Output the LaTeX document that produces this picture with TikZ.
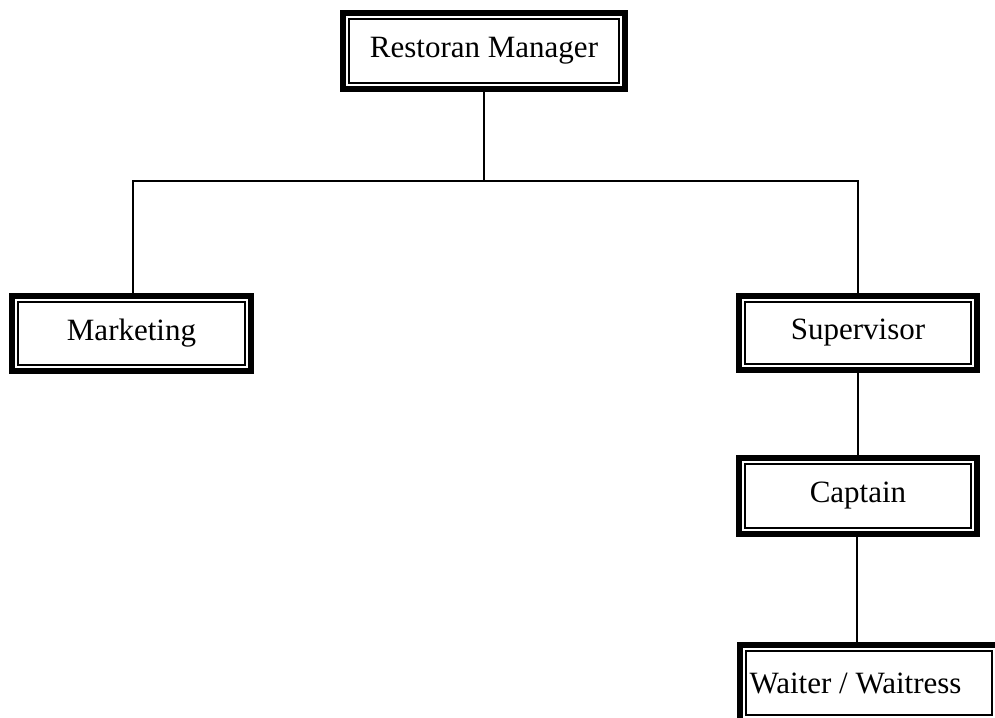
\documentclass[tikz,border=0pt]{standalone}
\usepackage{fontspec}
\setmainfont{Liberation Serif}
\usetikzlibrary{backgrounds}
\tikzset{
  box/.style={draw=black, line width=2pt, fill=white, inner sep=0pt, font=\fontsize{31}{37}\selectfont},
  thickframe/.style={draw=black, line width=6pt, fill=white},
  conn/.style={draw=black, line width=2pt},
  txt/.style={inner sep=0pt, font=\fontsize{31}{37}\selectfont}
}
\newcommand{\myframe}[1]{%
  \path[thickframe] ([shift={(-6,-6)}]#1.north west) rectangle ([shift={(6,6)}]#1.south east);}
\begin{document}
\begin{tikzpicture}[x=1pt, y=-1pt]
\useasboundingbox (0,0) rectangle (995,717);
\clip (0,0) rectangle (995,717);
% frames (outer thick) are drawn before nodes
\path[thickframe] (343,13) rectangle (625,89);
\path[thickframe] (12,296) rectangle (251,371);
\path[thickframe] (739,296) rectangle (977,370);
\path[thickframe] (739,458) rectangle (977,534);
\path[thickframe] (740,645) rectangle (1000,722);
% nodes (inner thin frame)
\node[box, minimum width=270pt, minimum height=64pt] (manager) at (484,51) {Restoran Manager};
\node[box, minimum width=227pt, minimum height=63pt] (marketing) at (131.5,333.5) {Marketing};
\node[box, minimum width=226pt, minimum height=62pt] (supervisor) at (858,333) {Supervisor};
\node[box, minimum width=226pt, minimum height=64pt] (captain) at (858,496) {Captain};
\node[box, minimum width=246pt, minimum height=64pt] (waiter) at (869,683) {};
\node[txt] (waitertext) at (855.5,683) {Waiter / Waitress};
\coordinate (bar) at (484,181);
\begin{scope}[on background layer]
  \draw[conn] (manager.south) -- (bar);
  \draw[conn] (bar) -| ([xshift=1.5pt]marketing.north);
  \draw[conn] (bar) -| (supervisor.north);
  \draw[conn] (supervisor.south) -- (captain.north);
  \draw[conn] ([xshift=-1pt]captain.south) -- ([xshift=-1pt]captain.south |- waiter.north);
\end{scope}
\end{tikzpicture}
\end{document}
